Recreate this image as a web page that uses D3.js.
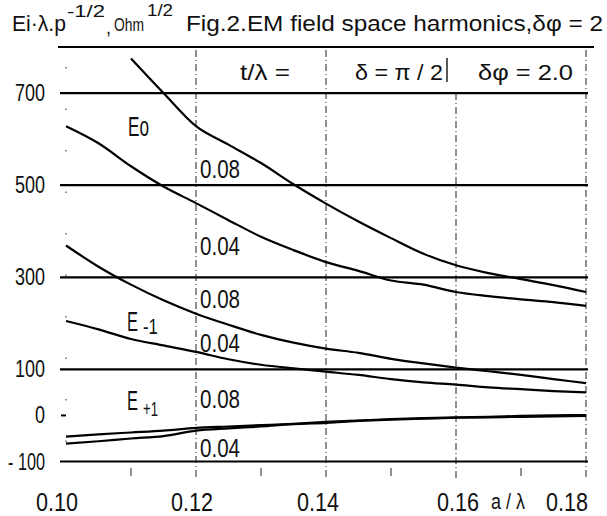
<!DOCTYPE html>
<html><head><meta charset="utf-8">
<script src="https://cdn.jsdelivr.net/npm/d3@7"></script>
<style>
html,body{margin:0;padding:0;background:#fff;}
svg text{font-family:"Liberation Sans","DejaVu Sans",sans-serif;fill:#111;}
</style></head>
<body><svg id="c" width="607" height="516"></svg>
<script>
// ---- data ----
const aValues = [0.10,0.105,0.11,0.115,0.12,0.125,0.13,0.135,0.14,0.145,0.15,0.155,0.16,0.165,0.17,0.175,0.18];
const eo008  = [null,null,775,700,628,588,548,502,460,421,385,351,326,309,296,283,268];
const eo004  = [628,591,541,497,461,424,388,359,333,314,293,284,268,259,252,246,238];
const em1008 = [369,323,284,250,221,197,175,158,145,136,123,113,104,96,88,79,70];
const em1004 = [205,187,166,152,138,122,110,102,95,88,79,72,67,61,57,53,50];
const ep1008 = [-46,-41,-37,-33,-27,-24,-21,-18,-14,-11,-8,-6,-4,-3,-1,0,1];
const ep1004 = [-61,-56,-50,-45,-33,-28,-24,-19,-16,-12,-9,-7,-5,-4,-3,-2,-1];
const series = [eo008, eo004, em1008, em1004, ep1008, ep1004];
const curveLabels = ["0.08","0.04","0.08","0.04","0.08","0.04"];
const yTicks = [700,500,300,100,0,-100];
const yLines = [800,700,500,300,100,-100];
const xTicks = [0.10,0.12,0.14,0.16,0.18];
const xTickLabels = ["0.10","0.12","0.14","0.16","0.18"];
const xMinor = [0.11,0.13,0.15,0.17];

// ---- layout ----
const svg = d3.select("#c");
const x = d3.scaleLinear().domain([0.10,0.18]).range([66,586]);
const y = d3.scaleLinear().domain([-100,800]).range([461.5,47]);

// vertical dash-dot grid
const grid = svg.append("g").attr("stroke","#222").attr("stroke-width",1).attr("fill","none");
[0.12,0.14,0.18].forEach(v=>{
  grid.append("line").attr("x1",x(v)).attr("x2",x(v)).attr("y1",y(800)+3).attr("y2",478)
    .attr("stroke-dasharray","7,3,1,3");
});
grid.append("line").attr("x1",x(0.16)).attr("x2",x(0.16)).attr("y1",y(700)).attr("y2",478)
  .attr("stroke-dasharray","7,3,1,3");
grid.append("line").attr("x1",x(0.10)).attr("x2",x(0.10)).attr("y1",y(800)+20).attr("y2",480)
  .attr("stroke-dasharray","1.5,40");
xMinor.forEach(v=>{
  grid.append("line").attr("x1",x(v)).attr("x2",x(v)).attr("y1",468).attr("y2",476);
});
// header bar
grid.append("line").attr("x1",447).attr("x2",447).attr("y1",58).attr("y2",82).attr("stroke-width",1.5);

// horizontal lines
svg.append("g").selectAll("line").data(yLines).join("line")
  .attr("x1",d=>d===800?58:60).attr("x2",d=>d===800?594:588)
  .attr("y1",d=>y(d)).attr("y2",d=>y(d))
  .attr("stroke","#000").attr("stroke-width",2.2);
// tick at 0
svg.append("line").attr("x1",61).attr("x2",66).attr("y1",y(0)).attr("y2",y(0)).attr("stroke","#000").attr("stroke-width",2);

// y labels
svg.append("g").selectAll("text").data(yTicks).join("text")
  .attr("x",45).attr("y",d=>y(d)+8).attr("text-anchor","end")
  .attr("font-size",23)
  .attr("textLength",d=>String(d).length*10 - (d<0?3:0))
  .attr("lengthAdjust","spacingAndGlyphs")
  .text(d=>String(d).replace("-","- "));

// x labels
const xLabDx = [-9,-4,-8,2,-19];
svg.append("g").selectAll("text").data(xTicks).join("text")
  .attr("x",(d,i)=>x(d)+xLabDx[i]).attr("y",511).attr("text-anchor","middle")
  .attr("font-size",25).attr("textLength",42).attr("lengthAdjust","spacingAndGlyphs")
  .text((d,i)=>xTickLabels[i]);
svg.append("text").attr("x",491).attr("y",509).attr("font-size",22)
  .attr("textLength",34).attr("lengthAdjust","spacingAndGlyphs").text("a / λ");

// curves
const line = d3.line().defined(d=>d[1]!==null).x(d=>x(d[0])).y(d=>y(d[1])).curve(d3.curveMonotoneX);
svg.append("g").selectAll("path").data(series).join("path")
  .attr("d",s=>line(aValues.map((a,i)=>[a,s[i]])))
  .attr("fill","none").attr("stroke","#000").attr("stroke-width",2.2);

// curve labels
const labY = [178,255,308,352,408,457];
svg.append("g").selectAll("text").data(curveLabels).join("text")
  .attr("x",200).attr("y",(d,i)=>labY[i]).attr("font-size",26)
  .attr("textLength",40).attr("lengthAdjust","spacingAndGlyphs").text(d=>d);

// helper
function txt(xp,yp,s,fs,w){
  return svg.append("text").attr("x",xp).attr("y",yp).attr("font-size",fs)
    .attr("textLength",w).attr("lengthAdjust","spacingAndGlyphs").text(s);
}
// group labels
txt(128,136,"Eo",27,21);
txt(127,331,"E",27,11);
txt(143,334,"-1",22,15);
txt(127,410,"E",27,11);
txt(143,416,"+1",20,15);

// header row
txt(240,80,"t/λ =",22,50);
txt(355,80,"δ = π / 2",22,88);
txt(478,80,"δφ = 2.0",22,95);

// title
txt(12,31,"Ei·λ.p",22,54);
txt(67,17,"-1/2",16,38);
txt(106,34,",",20,5);
txt(114,31,"Ohm",18,30);
txt(147,16,"1/2",16,26);
txt(186,31,"Fig.2.EM field space harmonics,δφ = 2",22,417);
</script></body></html>
